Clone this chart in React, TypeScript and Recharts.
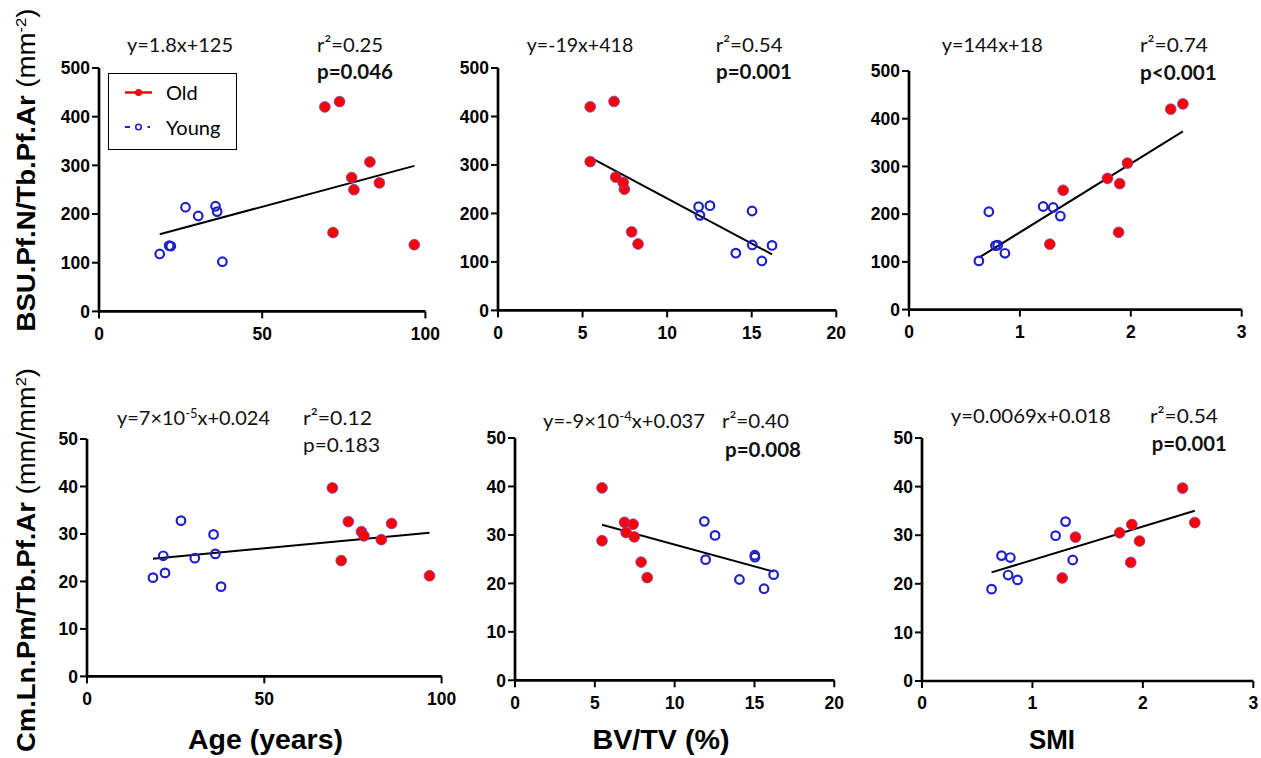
import { ScatterChart, Scatter, XAxis, YAxis, ReferenceLine, Legend } from "recharts"

// subjects: old A..H, young 1..8 (same order in every panel)
const ageOld = [69.2, 73.7, 71.7, 77.4, 78.1, 83.0, 85.9, 96.6]
const ageYoung = [37.8, 18.6, 21.5, 22.0, 36.2, 30.4, 26.5, 35.7]
const bvtvOld = [5.45, 6.86, 7.9, 6.96, 7.47, 5.45, 7.4, 8.28]
const bvtvYoung = [15.6, 14.06, 15.03, 16.2, 15.02, 11.94, 11.86, 12.53]
const smiOld = [2.36, 2.47, 1.89, 1.79, 1.39, 1.97, 1.9, 1.27]
const smiYoung = [0.63, 0.865, 0.8, 0.78, 0.72, 1.365, 1.3, 1.21]
const bsuOld = [420, 431, 162, 275, 250, 307, 264, 137]
const bsuYoung = [102, 118, 135, 134, 205, 196, 214, 216]
const cmOld = [39.7, 32.6, 24.4, 30.5, 29.6, 28.8, 32.2, 21.2]
const cmYoung = [18.9, 20.8, 25.4, 21.8, 25.8, 24.9, 32.8, 29.9]

// regression lines as drawn (panel order: top row Age, BV/TV, SMI; bottom row same)
const fitSlope = [1.8, -18.6, 144, 0.07, -0.9, 6.9]
const fitIntercept = [125, 417, 18, 23.5, 37, 18]

const xTicksAge = [0, 50, 100]
const xTicksBvtv = [0, 5, 10, 15, 20]
const xTicksSmi = [0, 1, 2, 3]
const yTicksBsu = [0, 100, 200, 300, 400, 500]
const yTicksCm = [0, 10, 20, 30, 40, 50]

const eqText = ["y=1.8x+125", "y=-19x+418", "y=144x+18", "y=7×10|-5|x+0.024", "y=-9×10|-4|x+0.037", "y=0.0069x+0.018"]
const r2Text = ["r²=0.25", "r²=0.54", "r²=0.74", "r²=0.12", "r²=0.40", "r²=0.54"]
const pText = ["p=0.046", "p=0.001", "p<0.001", "p=0.183", "p=0.008", "p=0.001"]
const pSignificant = [true, true, true, false, true, true]

const xTitles = ["Age (years)", "BV/TV (%)", "SMI"]

const RED = "#ff0000"
const BLUE = "#1f22c8"
const TICK_FONT = "'Liberation Sans', Arial, sans-serif"
const NOTE_FONT = "Lato, 'Open Sans', sans-serif"

const Y_W = 45
const M_TOP = 12
const M_RIGHT = 18
const X_H = 40
const M_BOTTOM = 4

// plot rectangles [left, top, right, bottom] in page pixels
const layout = [
  { plot: [99.3, 68.3, 425.7, 311.7], eq: [127, 52.3, 106], r2: [317, 52.3, 66], p: [317, 78.5, 76] },
  { plot: [497.7, 68.3, 836, 310.7], eq: [526.7, 52.3, 106.6], r2: [715.7, 52.3, 67], p: [716, 79, 76] },
  { plot: [909, 70.7, 1241.7, 309.3], eq: [941.7, 51.7, 101], r2: [1140, 51.7, 68], p: [1140, 80, 76.7] },
  { plot: [86.7, 439.3, 441.3, 676.7], eq: [117, 425, 153], r2: [303, 425, 69], p: [303, 451.7, 77] },
  { plot: [515, 437.7, 834.3, 680], eq: [543, 428, 162], r2: [722, 428, 67], p: [725, 457, 76] },
  { plot: [921.7, 437.7, 1253, 680.7], eq: [950.7, 423, 160], r2: [1150, 423, 68], p: [1151.7, 451, 75] },
]

const pair = (xs: number[], ys: number[]) => xs.map((x, i) => ({ x, y: ys[i] }))

const OldDot = (props: any) => (
  <circle cx={props.cx} cy={props.cy} r={5.4} fill={RED} stroke="#6a4cc8" strokeWidth={0.8} />
)
const YoungDot = (props: any) => (
  <circle cx={props.cx} cy={props.cy} r={4.3} fill="none" stroke={BLUE} strokeWidth={2.2} />
)

const LegendBox = ({ payload }: any) => {
  const names = (payload || []).map((p: any) => p.value)
  return (
    <div style={{ width: 129, height: 77, border: "1.5px solid #000", boxSizing: "border-box", background: "#fff" }}>
      <svg width={126} height={74} style={{ display: "block" }}>
        <line x1={16} x2={43} y1={18.5} y2={18.5} stroke={RED} strokeWidth={2.5} />
        <circle cx={29.5} cy={18.5} r={3.5} fill={RED} />
        <text x={57} y={26} fontFamily={NOTE_FONT} fontSize={20} fill="#000">{names[0] ?? "Old"}</text>
        <line x1={16} x2={21} y1={53} y2={53} stroke={BLUE} strokeWidth={2} />
        <circle cx={29.5} cy={53} r={2.8} fill="none" stroke={BLUE} strokeWidth={1.6} />
        <line x1={38.5} x2={41} y1={53} y2={53} stroke={BLUE} strokeWidth={2} />
        <text x={57} y={60.5} fontFamily={NOTE_FONT} fontSize={20} fill="#000">{names[1] ?? "Young"}</text>
      </svg>
    </div>
  )
}

interface PanelProps {
  idx: number
  xs: [number[], number[]]
  ys: [number[], number[]]
  xDomain: [number, number]
  xTicks: number[]
  yDomain: [number, number]
  yTicks: number[]
  legend?: boolean
}

function Panel({ idx, xs, ys, xDomain, xTicks, yDomain, yTicks, legend }: PanelProps) {
  const [x0, y0, x1, y1] = layout[idx].plot
  const left = x0 - Y_W
  const top = y0 - M_TOP
  const width = Y_W + (x1 - x0) + M_RIGHT
  const height = M_TOP + (y1 - y0) + X_H + M_BOTTOM
  const old = pair(xs[0], ys[0])
  const young = pair(xs[1], ys[1])
  const allX = [...xs[0], ...xs[1]]
  const lx0 = Math.min(...allX)
  const lx1 = Math.max(...allX)
  const f = (x: number) => fitSlope[idx] * x + fitIntercept[idx]
  const tick = { fill: "#000", fontSize: 17.5, fontWeight: 700, fontFamily: TICK_FONT }

  return (
    <div style={{ position: "absolute", left, top }}>
      <ScatterChart width={width} height={height} margin={{ top: M_TOP, right: M_RIGHT, bottom: M_BOTTOM, left: 0 }}>
        <XAxis
          type="number"
          dataKey="x"
          domain={xDomain}
          ticks={xTicks}
          interval={0}
          allowDataOverflow
          height={X_H}
          tickSize={7}
          tickMargin={9}
          axisLine={{ stroke: "#000", strokeWidth: 2.7 }}
          tickLine={{ stroke: "#000", strokeWidth: 2 }}
          tick={tick}
        />
        <YAxis
          type="number"
          dataKey="y"
          domain={yDomain}
          ticks={yTicks}
          interval={0}
          allowDataOverflow
          width={Y_W}
          tickSize={7}
          tickMargin={2}
          axisLine={{ stroke: "#000", strokeWidth: 2.7 }}
          tickLine={{ stroke: "#000", strokeWidth: 2 }}
          tick={tick}
        />
        <ReferenceLine
          segment={[{ x: lx0, y: f(lx0) }, { x: lx1, y: f(lx1) }]}
          stroke="#000"
          strokeWidth={2}
        />
        <Scatter name="Old" data={old} shape={OldDot} isAnimationActive={false} />
        <Scatter name="Young" data={young} shape={YoungDot} isAnimationActive={false} />
        {legend && (
          <Legend
            layout="vertical"
            align="center"
            verticalAlign="middle"
            content={<LegendBox />}
            wrapperStyle={{ left: 107.7 - left, top: 72.7 - top, width: 129, height: 77 }}
          />
        )}
      </ScatterChart>
    </div>
  )
}

const Note = ({ spec, text, bold }: { spec: number[]; text: string; bold?: boolean }) => {
  const [x, y, w] = spec
  const parts = text.split("|")
  return (
    <text x={x} y={y} fontFamily={NOTE_FONT} fontSize={20} fontWeight={bold ? 700 : 400} fill="#111" textLength={w} lengthAdjust="spacingAndGlyphs">
      {parts.length === 1 ? text : (
        <>
          {parts[0]}
          <tspan dy={-7} fontSize={13}>{parts[1]}</tspan>
          <tspan dy={7}>{parts[2]}</tspan>
        </>
      )}
    </text>
  )
}

export default function App() {
  return (
    <div style={{ position: "absolute", left: 0, top: 0, width: 1261, height: 758, overflow: "hidden", background: "#fff" }}>
      <Panel idx={0} xs={[ageOld, ageYoung]} ys={[bsuOld, bsuYoung]} xDomain={[0, 100]} xTicks={xTicksAge} yDomain={[0, 500]} yTicks={yTicksBsu} legend />
      <Panel idx={1} xs={[bvtvOld, bvtvYoung]} ys={[bsuOld, bsuYoung]} xDomain={[0, 20]} xTicks={xTicksBvtv} yDomain={[0, 500]} yTicks={yTicksBsu} />
      <Panel idx={2} xs={[smiOld, smiYoung]} ys={[bsuOld, bsuYoung]} xDomain={[0, 3]} xTicks={xTicksSmi} yDomain={[0, 500]} yTicks={yTicksBsu} />
      <Panel idx={3} xs={[ageOld, ageYoung]} ys={[cmOld, cmYoung]} xDomain={[0, 100]} xTicks={xTicksAge} yDomain={[0, 50]} yTicks={yTicksCm} />
      <Panel idx={4} xs={[bvtvOld, bvtvYoung]} ys={[cmOld, cmYoung]} xDomain={[0, 20]} xTicks={xTicksBvtv} yDomain={[0, 50]} yTicks={yTicksCm} />
      <Panel idx={5} xs={[smiOld, smiYoung]} ys={[cmOld, cmYoung]} xDomain={[0, 3]} xTicks={xTicksSmi} yDomain={[0, 50]} yTicks={yTicksCm} />

      <svg width={1261} height={758} style={{ position: "absolute", left: 0, top: 0, pointerEvents: "none" }}>
        {layout.map((l, i) => (
          <g key={i}>
            <Note spec={l.eq} text={eqText[i]} />
            <Note spec={l.r2} text={r2Text[i]} />
            <Note spec={l.p} text={pText[i]} bold={pSignificant[i]} />
          </g>
        ))}

        <g fontFamily={TICK_FONT} fontSize={28} fontWeight={700} fill="#000" textAnchor="middle">
          <text x={265.5} y={749} textLength={155} lengthAdjust="spacingAndGlyphs">{xTitles[0]}</text>
          <text x={661} y={749} textLength={137} lengthAdjust="spacingAndGlyphs">{xTitles[1]}</text>
          <text x={1052} y={749} textLength={46} lengthAdjust="spacingAndGlyphs">{xTitles[2]}</text>
        </g>

        <g fontFamily={TICK_FONT} fontSize={25} fill="#000" textAnchor="middle">
          <text transform="translate(35,170) rotate(-90)" textLength={323} lengthAdjust="spacingAndGlyphs">
            <tspan fontWeight={700}>BSU.Pf.N/Tb.Pf.Ar </tspan>
            <tspan>(mm</tspan>
            <tspan dy={-9} fontSize={15}>-2</tspan>
            <tspan dy={9}>)</tspan>
          </text>
          <text transform="translate(35,560) rotate(-90)" textLength={384} lengthAdjust="spacingAndGlyphs">
            <tspan fontWeight={700}>Cm.Ln.Pm/Tb.Pf.Ar </tspan>
            <tspan>(mm/mm</tspan>
            <tspan dy={-9} fontSize={15}>2</tspan>
            <tspan dy={9}>)</tspan>
          </text>
        </g>
      </svg>
    </div>
  )
}
